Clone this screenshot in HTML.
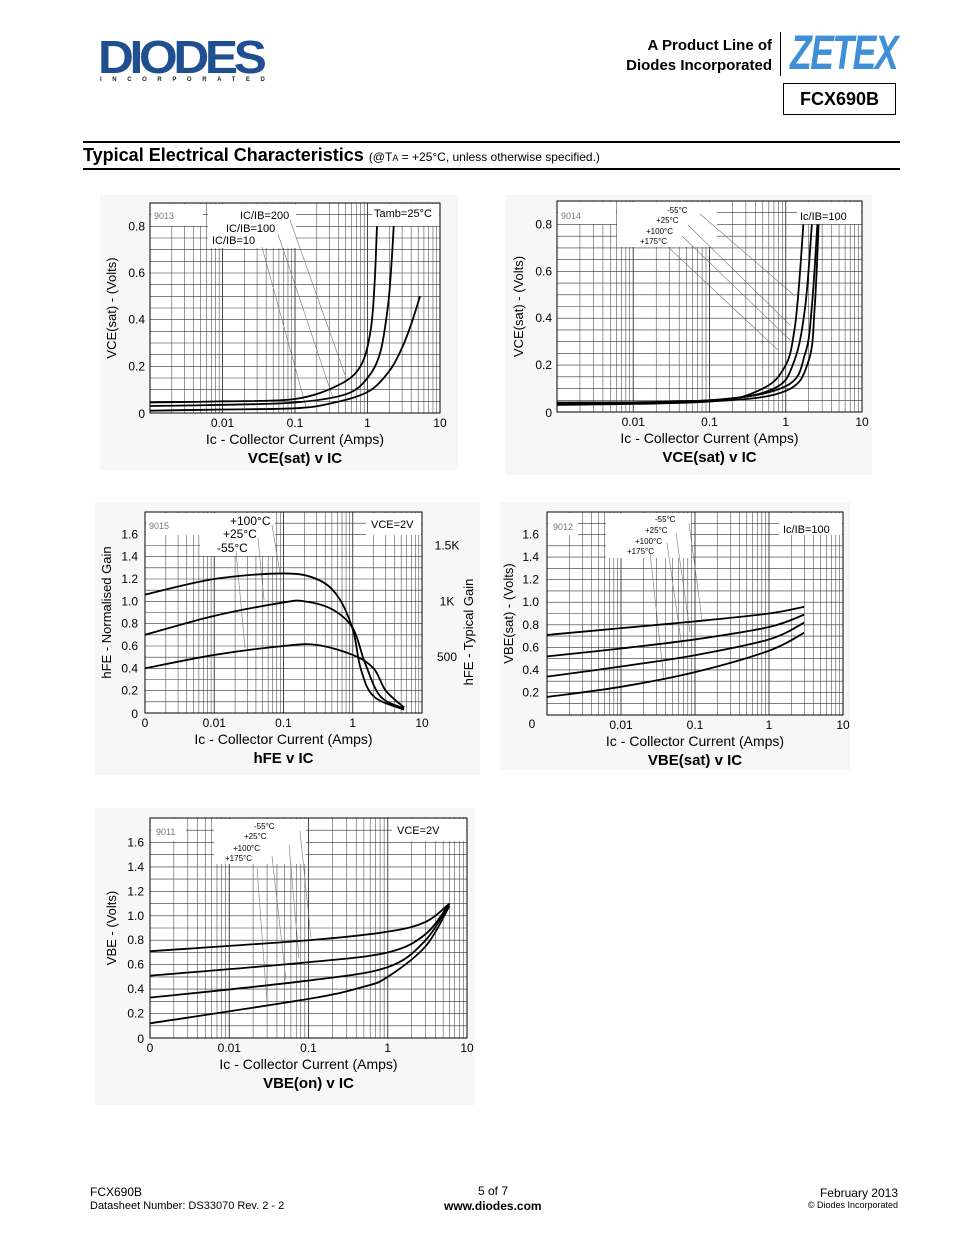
<!DOCTYPE html>
<html><head><meta charset="utf-8">
<style>
html,body{margin:0;padding:0;background:#fff;}
body{width:954px;height:1235px;position:relative;overflow:hidden;font-family:"Liberation Sans",sans-serif;color:#000;}
.abs{position:absolute;white-space:nowrap;}
</style></head>
<body>
<div class="abs" style="left:98px;top:30px;font:900 46px 'Liberation Sans',sans-serif;color:#1f4f8f;letter-spacing:-4px;transform:scaleX(1.08);transform-origin:left;">DIODES</div>
<div class="abs" style="left:100px;top:77px;font:bold 6px 'Liberation Sans',sans-serif;letter-spacing:10.6px;color:#222;">INCORPORATED</div>
<div class="abs" style="right:182px;top:36px;font:bold 15px 'Liberation Sans',sans-serif;text-align:right;line-height:20px;">A Product Line of<br>Diodes Incorporated</div>
<div class="abs" style="left:780px;top:32px;width:1px;height:44px;background:#000;"></div>
<div class="abs" style="left:790px;top:26px;font:italic bold 48px 'Liberation Sans',sans-serif;color:#3f8fd8;letter-spacing:-2px;transform:scaleX(0.74);transform-origin:left;">ZETEX</div>
<div class="abs" style="left:783px;top:83px;width:111px;height:30px;border:1px solid #000;font:bold 18px 'Liberation Sans',sans-serif;text-align:center;line-height:31px;">FCX690B</div>
<div class="abs" style="left:83px;top:141px;width:817px;height:2px;background:#000;"></div>
<div class="abs" style="left:83px;top:145px;font:bold 18px 'Liberation Sans',sans-serif;">Typical Electrical Characteristics <span style="font-weight:normal;font-size:12px;">(@T<span style="font-size:9px">A</span> = +25°C, unless otherwise specified.)</span></div>
<div class="abs" style="left:83px;top:168px;width:817px;height:2px;background:#000;"></div>

<svg id="charts" width="954" height="1235" style="position:absolute;left:0;top:0;" xmlns="http://www.w3.org/2000/svg"></svg>

<div class="abs" style="left:90px;top:1185px;font-size:12px;">FCX690B</div>
<div class="abs" style="left:90px;top:1200px;font-size:11px;">Datasheet Number: DS33070 Rev. 2 - 2</div>
<div class="abs" style="left:478px;top:1184px;font-size:12px;">5 of 7</div>
<div class="abs" style="left:444px;top:1199px;font-size:12px;font-weight:bold;">www.diodes.com</div>
<div class="abs" style="right:56px;top:1186px;font-size:12px;">February 2013</div>
<div class="abs" style="right:56px;top:1200px;font-size:9px;">© Diodes Incorporated</div>

<script>
// ---- chart data (x in Amps, y in chart units) ----
var c1Series = ["IC/IB=10","IC/IB=100","IC/IB=200"];
var c1X10 = [0.001,0.01,0.1,0.3,1,2,3,4,5.3];
var c1Y10 = [0.01,0.015,0.02,0.04,0.09,0.18,0.28,0.38,0.5];
var c1X100 = [0.001,0.01,0.1,0.5,1,1.5,1.9,2.1,2.3];
var c1Y100 = [0.03,0.035,0.045,0.08,0.15,0.26,0.45,0.6,0.8];
var c1X200 = [0.001,0.01,0.1,0.4,0.8,1.1,1.25,1.35];
var c1Y200 = [0.045,0.05,0.06,0.12,0.2,0.35,0.55,0.8];

var c2X55 = [0.001,0.1,0.5,1,1.3,1.5,1.7];
var c2Y55 = [0.03,0.045,0.1,0.2,0.35,0.55,0.8];
var c2X25 = [0.001,0.1,0.7,1.3,1.8,2.2];
var c2Y25 = [0.035,0.05,0.1,0.22,0.45,0.8];
var c2X100 = [0.001,0.1,1,1.8,2.2,2.6];
var c2Y100 = [0.04,0.05,0.11,0.25,0.45,0.8];
var c2X175 = [0.001,0.1,1,2,2.4,2.7];
var c2Y175 = [0.04,0.045,0.09,0.22,0.45,0.8];

var c3X100 = [0.001,0.01,0.1,0.3,0.6,1,1.3,2,5.5];
var c3Y100 = [1.06,1.2,1.25,1.2,1.05,0.75,0.4,0.15,0.03];
var c3X25 = [0.001,0.01,0.1,0.2,0.5,1,1.5,2.5,5.5];
var c3Y25 = [0.7,0.87,0.99,1.0,0.93,0.76,0.45,0.15,0.04];
var c3X55 = [0.001,0.01,0.1,0.3,1,2,3,5.5];
var c3Y55 = [0.4,0.52,0.6,0.61,0.52,0.4,0.2,0.05];

var c4X = [0.001,0.01,0.1,1,3];
var c4Y55 = [0.71,0.77,0.83,0.9,0.96];
var c4Y25 = [0.52,0.59,0.67,0.78,0.89];
var c4Y100 = [0.34,0.43,0.53,0.67,0.82];
var c4Y175 = [0.16,0.25,0.38,0.57,0.73];

var c5X = [0.001,0.1,1,3,6];
var c5Y55 = [0.71,0.8,0.87,0.95,1.1];
var c5Y25 = [0.51,0.62,0.7,0.85,1.1];
var c5Y100 = [0.33,0.47,0.58,0.8,1.1];
var c5X175 = [0.001,0.1,0.5,1,3,6];
var c5Y175 = [0.12,0.32,0.42,0.5,0.75,1.08];

var xTickLabels = ["0.01","0.1","1","10"];
var xTickValues = [0.01,0.1,1,10];
var c1YTicks = [0,0.2,0.4,0.6,0.8];
var c1YLabels = ["0","0.2","0.4","0.6","0.8"];
var gainYTicks = [0,0.2,0.4,0.6,0.8,1.0,1.2,1.4,1.6];
var gainYLabels = ["0","0.2","0.4","0.6","0.8","1.0","1.2","1.4","1.6"];
var c3RightLabels = ["1.5K","1K","500"];
var c3RightValues = [1.5,1.0,0.5];

var NS="http://www.w3.org/2000/svg";
var svg=document.getElementById('charts');
function mk(tag,attrs,parent){var e=document.createElementNS(NS,tag);for(var k in attrs)e.setAttribute(k,attrs[k]);(parent||svg).appendChild(e);return e;}
function txt(x,y,s,size,parent,anchor,weight){var t=mk('text',{x:x,y:y,'font-family':'Liberation Sans, sans-serif','font-size':size,'text-anchor':anchor||'start','font-weight':weight||'normal',fill:'#000'},parent);t.textContent=s;return t;}

function chart(cfg){
  var g=mk('g',{});
  
  
  var bg=mk('rect',{x:cfg.bg[0],y:cfg.bg[1],width:cfg.bg[2],height:cfg.bg[3],fill:'#f7f7f7'},g);
  
  
  mk('rect',{x:cfg.x0,y:cfg.top,width:cfg.x1-cfg.x0,height:cfg.bot-cfg.top,fill:'#fff'},g);
  var lmin=-3,lmax=1;
  function X(v){return cfg.x0+(Math.log10(v)-lmin)/(lmax-lmin)*(cfg.x1-cfg.x0);}
  function Y(v){return cfg.bot-(v-0)/cfg.ymax*(cfg.bot-cfg.top);}
  for(var d=-3;d<1;d++){for(var m=1;m<10;m++){var xv=X(m*Math.pow(10,d));
    var gl=mk('line',{x1:xv,x2:xv,y1:cfg.top,y2:cfg.bot,stroke:'#333','stroke-width':m==1?0.9:0.5},g);
    }}
  for(var v=0;v<=cfg.ymax+1e-9;v+=cfg.ystep){var yy=Y(v);
    var hl=mk('line',{x1:cfg.x0,x2:cfg.x1,y1:yy,y2:yy,stroke:'#333','stroke-width':0.6},g);
    }
  cfg.boxes.forEach(function(b){var r=mk('rect',{x:b[0],y:b[1],width:b[2],height:b[3],fill:'#fff'},g);});
  var fr=mk('rect',{x:cfg.x0,y:cfg.top,width:cfg.x1-cfg.x0,height:cfg.bot-cfg.top,fill:'none',stroke:'#000','stroke-width':1},g);
  
  (cfg.leaders||[]).forEach(function(l){var ln=mk('line',{x1:l[0],y1:l[1],x2:l[2],y2:l[3],stroke:'#777','stroke-width':0.6},g);});
  cfg.series.forEach(function(s){
    var pts=s.x.map(function(xv,i){return [X(xv),Y(s.y[i])];});
    var d='M'+pts[0][0]+','+pts[0][1];
    for(var i=0;i<pts.length-1;i++){var p0=pts[i-1]||pts[i],p1=pts[i],p2=pts[i+1],p3=pts[i+2]||p2;
      d+=' C'+(p1[0]+(p2[0]-p0[0])/6)+','+(p1[1]+(p2[1]-p0[1])/6)+' '+(p2[0]-(p3[0]-p1[0])/6)+','+(p2[1]-(p3[1]-p1[1])/6)+' '+p2[0]+','+p2[1];}
    var p=mk('path',{d:d,fill:'none',stroke:'#000','stroke-width':1.8},g);
    
    
  });
  xTickValues.forEach(function(v,i){var t=txt(X(v),cfg.bot+14,xTickLabels[i],12,g,'middle');});
  if(cfg.x0label){var z=txt(cfg.x0,cfg.bot+14,'0',12,g,'middle');}
  cfg.yticks.forEach(function(v,i){var t=txt(cfg.x0-(cfg.ylabOff||6),Y(v)+4-(v===0?-1:0),cfg.ylabels[i],12,g,'end');});
  cfg.notes.forEach(function(n){var t=txt(n[0],n[1],n[2],n[3],g,n[4]||'start');t.setAttribute('fill',n[5]||'#000');});
  var cx=(cfg.x0+cfg.x1)/2;
  var xt=txt(cx,cfg.bot+31,'Ic - Collector Current (Amps)',14,g,'middle');
  
  var ct=txt(cx,cfg.bot+50,cfg.title,15,g,'middle','bold');
  
  var ytx=cfg.x0-34,yty=(cfg.top+cfg.bot)/2;
  var yt=txt(ytx,yty,cfg.ytitle,13,g,'middle');yt.setAttribute('transform','rotate(-90 '+ytx+' '+yty+')');
  
  return {X:X,Y:Y,g:g};
}

chart({name:'vcesat-ratio-chart',bg:[100,195,358,275],x0:150,x1:440,top:203,bot:413,ymax:0.9,ystep:0.05,
  yticks:c1YTicks,ylabels:c1YLabels,ylabOff:5,title:'VCE(sat) v IC',ytitle:'VCE(sat) - (Volts)',
  boxes:[[151,204,52,22],[208,204,88,44],[372,204,67,22]],
  leaders:[[262,247,306,407],[278,234,333,398],[290,220,345,375]],
  series:[{name:'curve-ic-ib-10',x:c1X10,y:c1Y10},{name:'curve-ic-ib-100',x:c1X100,y:c1Y100},{name:'curve-ic-ib-200',x:c1X200,y:c1Y200}],
  notes:[[154,219,'9013',9,'start','#777'],[240,219,c1Series[2],11],[226,232,c1Series[1],11],[212,244,c1Series[0],11],[374,217,'Tamb=25°C',11]]});

chart({name:'vcesat-temperature-chart',bg:[505,195,367,280],x0:557,x1:862,top:201,bot:412,ymax:0.9,ystep:0.05,
  yticks:c1YTicks,ylabels:c1YLabels,ylabOff:5,title:'VCE(sat) v IC',ytitle:'VCE(sat) - (Volts)',
  boxes:[[558,202,58,22],[617,202,100,45],[797,202,64,22]],
  leaders:[[700,214,795,296],[688,225,790,325],[682,236,790,340],[668,247,778,350]],
  series:[{name:'curve-minus-55c',x:c2X55,y:c2Y55},{name:'curve-plus-25c',x:c2X25,y:c2Y25},{name:'curve-plus-100c',x:c2X100,y:c2Y100},{name:'curve-plus-175c',x:c2X175,y:c2Y175}],
  notes:[[561,219,'9014',9,'start','#777'],[667,213,'-55°C',8],[656,223,'+25°C',8],[646,234,'+100°C',8],[640,244,'+175°C',8],[800,220,'Ic/IB=100',11]]});

var c3=chart({name:'hfe-chart',bg:[95,502,385,273],x0:145,x1:422,top:512,bot:713,ymax:1.8,ystep:0.1,
  yticks:gainYTicks,ylabels:gainYLabels,ylabOff:7,x0label:true,title:'hFE v IC',ytitle:'hFE - Normalised Gain',
  boxes:[[146,513,55,22],[200,513,75,43],[366,513,55,22]],
  leaders:[[272,525,280,573],[258,538,264,600],[236,551,245,648]],
  series:[{name:'curve-plus-100c',x:c3X100,y:c3Y100},{name:'curve-plus-25c',x:c3X25,y:c3Y25},{name:'curve-minus-55c',x:c3X55,y:c3Y55}],
  notes:[[149,529,'9015',9,'start','#777'],[230,525,'+100°C',12],[223,538,'+25°C',12],[217,552,'-55°C',12],[371,528,'VCE=2V',11]]});
c3RightValues.forEach(function(v,i){var t=txt(447,c3.Y(v)+4,c3RightLabels[i],12,c3.g,'middle');});
var rt=txt(473,632,'hFE - Typical Gain',13,c3.g,'middle');rt.setAttribute('transform','rotate(-90 473 632)');


chart({name:'vbesat-chart',bg:[500,502,350,268],x0:547,x1:843,top:512,bot:715,ymax:1.8,ystep:0.1,
  yticks:gainYTicks.slice(1),ylabels:gainYLabels.slice(1),ylabOff:8,title:'VBE(sat) v IC',ytitle:'VBE(sat) - (Volts)',
  boxes:[[548,513,30,22],[606,513,85,45],[779,513,63,22]],
  leaders:[[689,523,702,620],[676,533,690,632],[667,543,682,648],[650,553,664,680]],
  series:[{name:'curve-minus-55c',x:c4X,y:c4Y55},{name:'curve-plus-25c',x:c4X,y:c4Y25},{name:'curve-plus-100c',x:c4X,y:c4Y100},{name:'curve-plus-175c',x:c4X,y:c4Y175}],
  notes:[[553,530,'9012',9,'start','#777'],[655,522,'-55°C',8],[645,533,'+25°C',8],[635,544,'+100°C',8],[627,554,'+175°C',8],[783,533,'Ic/IB=100',11],[532,728,'0',12,'middle']]});

chart({name:'vbeon-chart',bg:[95,808,380,297],x0:150,x1:467,top:818,bot:1038,ymax:1.8,ystep:0.1,
  yticks:gainYTicks,ylabels:gainYLabels,ylabOff:6,x0label:true,title:'VBE(on) v IC',ytitle:'VBE - (Volts)',
  boxes:[[151,819,35,22],[214,819,92,45],[392,819,74,22]],
  leaders:[[300,831,311,938],[289,845,299,958],[272,856,286,980],[257,868,267,1003]],
  series:[{name:'curve-minus-55c',x:c5X,y:c5Y55},{name:'curve-plus-25c',x:c5X,y:c5Y25},{name:'curve-plus-100c',x:c5X,y:c5Y100},{name:'curve-plus-175c',x:c5X175,y:c5Y175}],
  notes:[[156,835,'9011',9,'start','#777'],[254,829,'-55°C',8],[244,839,'+25°C',8],[233,851,'+100°C',8],[225,861,'+175°C',8],[397,834,'VCE=2V',11]]});
</script>
</body></html>
